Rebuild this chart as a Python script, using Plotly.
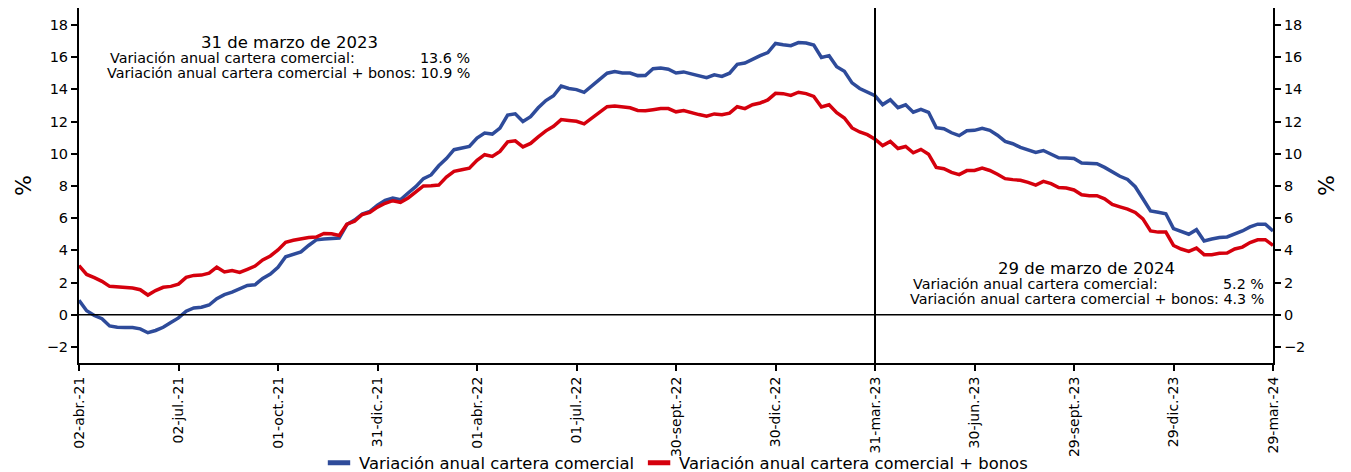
import pandas as pd
import plotly.graph_objects as go

# Weekly observations (Fridays), 02-abr-2021 to 29-mar-2024
fechas = pd.date_range("2021-04-02", "2024-03-29", freq="W-FRI")

# Variación anual cartera comercial (%)
cartera = [
    0.9, 0.25, -0.05, -0.25, -0.7, -0.78, -0.79, -0.8, -0.88, -1.12,
    -0.98, -0.78, -0.48, -0.2, 0.22, 0.42, 0.46, 0.6, 1.0, 1.25,
    1.4, 1.6, 1.82, 1.86, 2.25, 2.52, 2.95, 3.6, 3.73, 3.9,
    4.3, 4.65, 4.7, 4.75, 4.76, 5.6, 5.88, 6.25, 6.42, 6.8,
    7.1, 7.25, 7.14, 7.56, 7.95, 8.45, 8.68, 9.25, 9.7, 10.25,
    10.35, 10.45, 10.97, 11.28, 11.22, 11.59, 12.4, 12.48, 12.0, 12.3,
    12.85, 13.3, 13.6, 14.2, 14.05, 13.98, 13.81, 14.2, 14.6, 15.0,
    15.1, 15.02, 15.01, 14.85, 14.86, 15.28, 15.32, 15.25, 15.01, 15.08,
    14.96, 14.86, 14.72, 14.9, 14.8, 15.0, 15.55, 15.63, 15.88, 16.09,
    16.28, 16.85, 16.77, 16.71, 16.9, 16.87, 16.75, 15.98, 16.09, 15.4,
    15.12, 14.4, 14.05, 13.85, 13.6, 13.05, 13.35, 12.86, 13.04, 12.58,
    12.76, 12.57, 11.62, 11.55, 11.3, 11.12, 11.42, 11.45, 11.58, 11.45,
    11.15, 10.76, 10.62, 10.39, 10.25, 10.08, 10.2, 10.0, 9.75, 9.73,
    9.7, 9.42, 9.38, 9.38, 9.15, 8.85, 8.6, 8.4, 7.95, 7.2,
    6.45, 6.36, 6.27, 5.35, 5.18, 5.0, 5.28, 4.58, 4.7, 4.8,
    4.83, 5.0, 5.2, 5.45, 5.62, 5.62, 5.2,
]

# Variación anual cartera comercial + bonos (%)
cartera_bonos = [
    3.05, 2.5, 2.3, 2.07, 1.76, 1.72, 1.68, 1.66, 1.55, 1.22,
    1.5, 1.7, 1.76, 1.9, 2.32, 2.44, 2.46, 2.58, 2.95, 2.66,
    2.75, 2.63, 2.82, 3.02, 3.4, 3.65, 4.02, 4.5, 4.62, 4.7,
    4.8, 4.82, 5.05, 5.03, 4.92, 5.62, 5.8, 6.22, 6.35, 6.68,
    6.92, 7.08, 6.98, 7.25, 7.65, 8.0, 8.01, 8.05, 8.55, 8.9,
    9.0, 9.1, 9.59, 9.94, 9.83, 10.14, 10.74, 10.8, 10.42, 10.64,
    11.05, 11.42, 11.7, 12.12, 12.06, 12.01, 11.85, 12.2, 12.55, 12.92,
    12.97, 12.9, 12.85, 12.69, 12.67, 12.73, 12.8, 12.8, 12.6, 12.68,
    12.54, 12.43, 12.33, 12.47, 12.42, 12.52, 12.92, 12.8, 13.04, 13.15,
    13.34, 13.75, 13.73, 13.62, 13.82, 13.73, 13.56, 12.9, 13.04, 12.55,
    12.22, 11.6, 11.35, 11.18, 10.9, 10.5, 10.76, 10.32, 10.45, 10.06,
    10.27, 9.97, 9.15, 9.07, 8.84, 8.7, 8.95, 8.96, 9.1, 8.96,
    8.72, 8.45, 8.39, 8.35, 8.22, 8.05, 8.28, 8.14, 7.9, 7.87,
    7.75, 7.45, 7.39, 7.39, 7.2, 6.85, 6.7, 6.56, 6.35, 5.95,
    5.2, 5.13, 5.13, 4.3, 4.08, 3.93, 4.14, 3.73, 3.73, 3.82,
    3.83, 4.08, 4.2, 4.48, 4.65, 4.66, 4.3,
]

# Tick labels on the date axis (every 13 weeks)
etiquetas_x = [
    "02-abr.-21", "02-jul.-21", "01-oct.-21", "31-dic.-21", "01-abr.-22",
    "01-jul.-22", "30-sept.-22", "30-dic.-22", "31-mar.-23", "30-jun.-23",
    "29-sept.-23", "29-dic.-23", "29-mar.-24",
]
ticks_x = list(fechas[::13])

valores_y = [-2, 0, 2, 4, 6, 8, 10, 12, 14, 16, 18]

nombres = ["Variación anual cartera comercial",
           "Variación anual cartera comercial + bonos"]

# Reference dates highlighted in the text boxes
corte_1 = pd.Timestamp("2023-03-31")
corte_2 = pd.Timestamp("2024-03-29")
i1 = list(fechas).index(corte_1)
i2 = list(fechas).index(corte_2)

AZUL = "#2E4B9A"
ROJO = "#D5000D"
FUENTE = "DejaVu Sans"

fig = go.Figure()
for serie, nombre, color in [(cartera, nombres[0], AZUL),
                             (cartera_bonos, nombres[1], ROJO)]:
    fig.add_trace(go.Scatter(
        x=fechas, y=serie, mode="lines", name=nombre,
        line=dict(color=color, width=3.5), showlegend=False,
    ))
    # Legend key drawn as a short thick bar
    fig.add_trace(go.Scatter(
        x=[None], y=[None], mode="markers", name=nombre,
        marker=dict(symbol="line-ew", size=18, color=color,
                    line=dict(color=color, width=5)),
    ))

# Vertical marker at the first reference date
fig.add_shape(type="line", xref="x", yref="paper", x0=corte_1, x1=corte_1,
              y0=0, y1=1, line=dict(color="black", width=2))

yrange = [-3, 19.05]


def eje_y(standoff):
    return dict(
        range=yrange, tickvals=valores_y, ticks="outside", ticklen=6, tickwidth=1.5,
        tickcolor="black", showline=True, linecolor="black", linewidth=2,
        showgrid=False, zeroline=False, automargin=False,
        tickfont=dict(family=FUENTE, size=14.5, color="black"),
        title=dict(text="%", font=dict(family=FUENTE, size=22, color="black"),
                   standoff=standoff),
    )


fig.update_layout(
    width=1351, height=472,
    margin=dict(l=79, r=78, t=8, b=109, autoexpand=False),
    paper_bgcolor="white", plot_bgcolor="white",
    font=dict(family=FUENTE, color="black"),
    xaxis=dict(
        type="date", range=[fechas[0], fechas[-1]],
        tickvals=ticks_x, ticktext=etiquetas_x, tickangle=-90,
        ticks="outside", ticklen=6, tickwidth=1.5, tickcolor="black",
        showline=True, linecolor="black", linewidth=2, showgrid=False,
        zeroline=False, automargin=False,
        tickfont=dict(family=FUENTE, size=14, color="black"),
    ),
    yaxis=eje_y(9),
    yaxis2=dict(eje_y(14), overlaying="y", side="right"),
    showlegend=True,
    legend=dict(
        orientation="h", x=0.5, xanchor="center", y=-0.282, yanchor="middle",
        font=dict(family=FUENTE, size=16.4, color="black"),
        bgcolor="rgba(0,0,0,0)", itemwidth=30,
    ),
)

# Zero reference line across the plot
fig.add_shape(type="line", xref="paper", yref="y", x0=0, x1=1, y0=0, y1=0,
              line=dict(color="black", width=1.5))

# Anchor an (empty) trace to the right axis so it is drawn
fig.add_trace(go.Scatter(x=[fechas[0]], y=[None], yaxis="y2", showlegend=False,
                         hoverinfo="skip"))


def cuadro(x_titulo, y_titulo, x_izq, x_der, fecha_txt, v1, v2):
    txt = dict(family=FUENTE, size=14.3, color="black")
    fig.add_annotation(xref="paper", yref="paper", x=x_titulo, y=y_titulo,
                       text=fecha_txt, showarrow=False, xanchor="center",
                       yanchor="middle",
                       font=dict(family=FUENTE, size=16.5, color="black"))
    dy1, dy2 = 0.045, 0.0875
    fig.add_annotation(xref="paper", yref="paper", x=x_izq, y=y_titulo - dy1,
                       text=nombres[0] + ":", showarrow=False, xanchor="left",
                       yanchor="middle", font=txt)
    fig.add_annotation(xref="paper", yref="paper", x=x_der, y=y_titulo - dy1,
                       text=f"{v1:.1f} %", showarrow=False, xanchor="right",
                       yanchor="middle", font=txt)
    fig.add_annotation(xref="paper", yref="paper", x=x_der, y=y_titulo - dy2,
                       text=f"{nombres[1]}: {v2:.1f} %", showarrow=False,
                       xanchor="right", yanchor="middle", font=txt)


cuadro(0.1767, 0.904, 0.0243, 0.3291, "31 de marzo de 2023", cartera[i1], cartera_bonos[i1])
cuadro(0.8442, 0.2676, 0.6968, 0.9941, "29 de marzo de 2024", cartera[i2], cartera_bonos[i2])

fig.write_html("out.html")
